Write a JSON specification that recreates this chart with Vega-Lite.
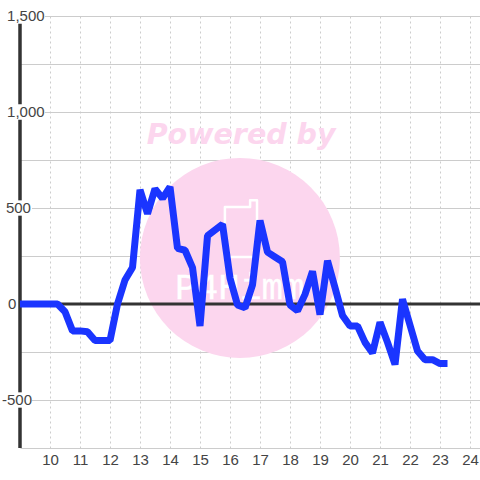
{"$schema":"https://vega.github.io/schema/vega-lite/v6.json","width":460,"height":432,"autosize":"none","padding":{"left":20,"top":16,"right":0,"bottom":32},"background":"white","config":{"view":{"stroke":null}},"datasets":{"series":[{"t":9,"v":0},{"t":9.25,"v":0},{"t":9.5,"v":0},{"t":9.75,"v":0},{"t":10,"v":0},{"t":10.25,"v":0},{"t":10.5,"v":-40},{"t":10.75,"v":-140},{"t":11,"v":-140},{"t":11.25,"v":-145},{"t":11.5,"v":-190},{"t":11.75,"v":-190},{"t":12,"v":-190},{"t":12.25,"v":0},{"t":12.5,"v":125},{"t":12.75,"v":190},{"t":13,"v":595},{"t":13.25,"v":470},{"t":13.5,"v":600},{"t":13.75,"v":550},{"t":14,"v":610},{"t":14.25,"v":290},{"t":14.5,"v":280},{"t":14.75,"v":190},{"t":15,"v":-115},{"t":15.25,"v":355},{"t":15.5,"v":385},{"t":15.75,"v":415},{"t":16,"v":135},{"t":16.25,"v":-5},{"t":16.5,"v":-20},{"t":16.75,"v":100},{"t":17,"v":435},{"t":17.25,"v":270},{"t":17.5,"v":245},{"t":17.75,"v":220},{"t":18,"v":-5},{"t":18.25,"v":-35},{"t":18.5,"v":50},{"t":18.75,"v":170},{"t":19,"v":-55},{"t":19.25,"v":225},{"t":19.5,"v":85},{"t":19.75,"v":-60},{"t":20,"v":-115},{"t":20.25,"v":-115},{"t":20.5,"v":-200},{"t":20.75,"v":-255},{"t":21,"v":-95},{"t":21.25,"v":-200},{"t":21.5,"v":-315},{"t":21.75,"v":25},{"t":22,"v":-110},{"t":22.25,"v":-245},{"t":22.5,"v":-290},{"t":22.75,"v":-290},{"t":23,"v":-310},{"t":23.25,"v":-310}],"boxes":[{"a":8.4,"b":9.83,"lo":1460,"hi":1540},{"a":8.4,"b":9.83,"lo":960,"hi":1040},{"a":8.4,"b":9.4,"lo":460,"hi":540},{"a":8.4,"b":9.4,"lo":-540,"hi":-460}],"thumb":[{"o":1,"t":16.83,"v":245},{"o":2,"t":15.83,"v":245},{"o":3,"t":15.83,"v":505},{"o":4,"t":16.67,"v":505},{"o":5,"t":16.67,"v":540},{"o":6,"t":16.9,"v":540},{"o":7,"t":16.9,"v":400}]},"encoding":{"x":{"type":"quantitative","scale":{"domain":[9,24.333],"nice":false,"zero":false},"axis":{"values":[10,11,12,13,14,15,16,17,18,19,20,21,22,23,24],"zindex":0,"grid":true,"gridColor":"#cccccc","gridDash":[2,3],"gridWidth":1,"domain":false,"ticks":false,"labelFont":"Liberation Sans","labelFontSize":15,"labelColor":"#444444","labelPadding":4,"title":null,"labelOverlap":false,"labelFlush":false,"labelBound":false}},"y":{"type":"quantitative","scale":{"domain":[-750,1500],"nice":false,"zero":false},"axis":{"values":[-750,-500,-250,0,250,500,750,1000,1250,1500],"zindex":0,"grid":true,"gridColor":"#cccccc","gridWidth":1,"domain":false,"ticks":false,"labels":false,"title":null}}},"layer":[{"data":{"values":[{"t":16.33,"v":240}]},"mark":{"type":"point","shape":"circle","filled":true,"opacity":1,"color":"#fcd6ee","size":40000,"clip":false},"encoding":{"x":{"field":"t"},"y":{"field":"v"}}},{"data":{"values":[{"t":16.37,"v":880,"label":"Powered by"}]},"mark":{"type":"text","font":"DejaVu Sans","fontWeight":"bold","fontStyle":"italic","fontSize":28.5,"color":"#fcd6ee","align":"center","baseline":"middle"},"encoding":{"x":{"field":"t"},"y":{"field":"v"},"text":{"field":"label"}}},{"data":{"values":[{"t":16.33,"v":83,"label":"P4Himm"}]},"mark":{"type":"text","font":"Liberation Mono","fontSize":36,"color":"white","align":"center","baseline":"middle","stroke":"white","strokeWidth":0.3},"encoding":{"x":{"field":"t"},"y":{"field":"v"},"text":{"field":"label"}}},{"data":{"name":"thumb"},"mark":{"type":"line","color":"white","strokeWidth":2.5,"strokeJoin":"round"},"encoding":{"x":{"field":"t"},"y":{"field":"v"},"order":{"field":"o"}}},{"data":{"values":[{"t":9,"a":-750,"b":1500}]},"mark":{"type":"rule","color":"#333333","strokeWidth":3.5,"clip":false},"encoding":{"x":{"field":"t"},"y":{"field":"a"},"y2":{"field":"b"}}},{"data":{"name":"boxes"},"mark":{"type":"rect","color":"white","clip":false},"encoding":{"x":{"field":"a"},"x2":{"field":"b"},"y":{"field":"lo"},"y2":{"field":"hi"}}},{"data":{"values":[{"a":9,"b":24.333,"v":0}]},"mark":{"type":"rule","color":"#333333","strokeWidth":3},"encoding":{"x":{"field":"a"},"x2":{"field":"b"},"y":{"field":"v"}}},{"data":{"values":[{"v":1500,"label":"1,500","t":8.57},{"v":1000,"label":"1,000","t":8.57},{"v":500,"label":"500","t":8.53},{"v":0,"label":"0","t":8.6},{"v":-500,"label":"-500","t":8.4}]},"mark":{"type":"text","font":"Liberation Sans","fontSize":15,"color":"#444444","align":"left","baseline":"middle","clip":false},"encoding":{"x":{"field":"t"},"y":{"field":"v"},"text":{"field":"label"}}},{"data":{"name":"series"},"mark":{"type":"line","color":"#1a35ff","strokeWidth":7,"strokeJoin":"bevel","interpolate":"linear"},"encoding":{"x":{"field":"t"},"y":{"field":"v"}}}]}
